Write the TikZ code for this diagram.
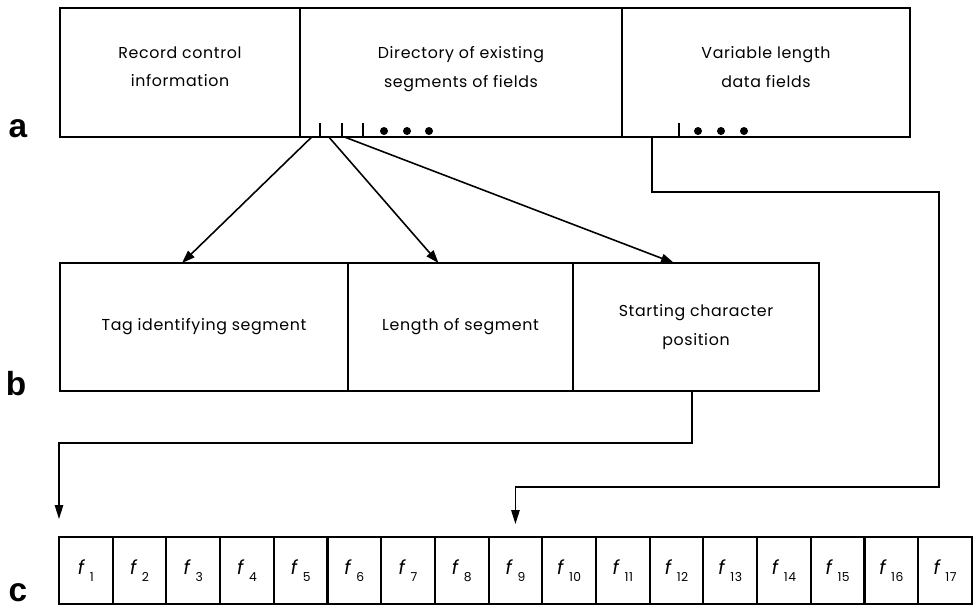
\documentclass[tikz,border=0pt]{standalone}
\usepackage{fontspec}
\setmainfont{Poppins}[LetterSpace=4]
\newfontfamily\rowfont{Liberation Sans}
\usetikzlibrary{calc,arrows.meta}
\newcommand{\fcell}[1]{\textit{f}\kern0.2em\raisebox{-0.7ex}{\fontsize{7}{7}\selectfont #1}}

\begin{document}
\begin{tikzpicture}[x=0.2mm,y=-0.2mm,
  part/.style={draw,line width=1.2pt,outer sep=0pt,inner sep=0pt,align=center,
    anchor=north west,font=\fontsize{9}{16}\selectfont},
  cell/.style={draw,line width=1.2pt,outer sep=0pt,inner sep=0pt,anchor=north west,
    minimum width=10.74mm,minimum height=13.4mm,font=\fontsize{11}{11}\selectfont},
  rowlabel/.style={anchor=base,font=\rowfont\bfseries\fontsize{19}{19}\selectfont},
  link/.style={line width=0.7pt,-{Triangle[length=2.8mm,width=1.7mm]}},
  fan/.style={line width=0.9pt,-{Triangle[length=2.6mm,width=1.8mm]}}]
  \useasboundingbox (0,0) rectangle (975,608);
  % a
  \node[part,minimum width=48mm,minimum height=25.8mm,text depth=2.2mm] (rec) at (60,8) {Record control\\information};
  \node[part,minimum width=64.4mm,minimum height=25.8mm,text depth=2.2mm] (dir) at (rec.north east) {Directory of existing\\segments of fields};
  \node[part,minimum width=57.6mm,minimum height=25.8mm,text depth=2.2mm] (var) at (dir.north east) {Variable length\\data fields};
  \foreach \x in {320,342,363,679} \draw[line width=0.7pt] (\x,123) -- (\x,137);
  \foreach \x in {384,407,429,698,721,744} \fill (\x,131) circle (4);
  % b
  \node[part,minimum width=57.6mm,minimum height=25.6mm] (tag) at (60,263) {Tag identifying segment};
  \node[part,minimum width=45mm,minimum height=25.6mm] (len) at (tag.north east) {Length of segment};
  \node[part,minimum width=49.2mm,minimum height=25.6mm] (start) at (len.north east) {Starting character\\position};
  % c
  \foreach \i in {1,...,17}
    \node[cell] (f\i) at ({59+(\i-1)*53.7},537) {\fcell{\i}};
  \node[rowlabel] (la) at (18,137) {a};
  \node[rowlabel] (lb) at (16,395) {b};
  \node[rowlabel] (lc) at (18,601) {c};
  % directory entry fans out
  \coordinate (dirsrc) at (321,128);
  \foreach \t in {tag,len,start} {
    \coordinate (\t-in) at ([xshift=-4.4mm]\t.north);
    \draw[fan] ($(dirsrc)!0.067!(\t-in)$) -- (\t-in);
  }
  \coordinate (aout) at (652,137);
  \coordinate (bout) at (692,391);
  \draw[link,shorten >=2.6mm] (aout) -- ++(0,55) -| (939,487) -| (f9.north);
  \draw[link,shorten >=3.6mm] (bout) -- ++(0,52) -| (f1.north west);
\end{tikzpicture}
\end{document}
